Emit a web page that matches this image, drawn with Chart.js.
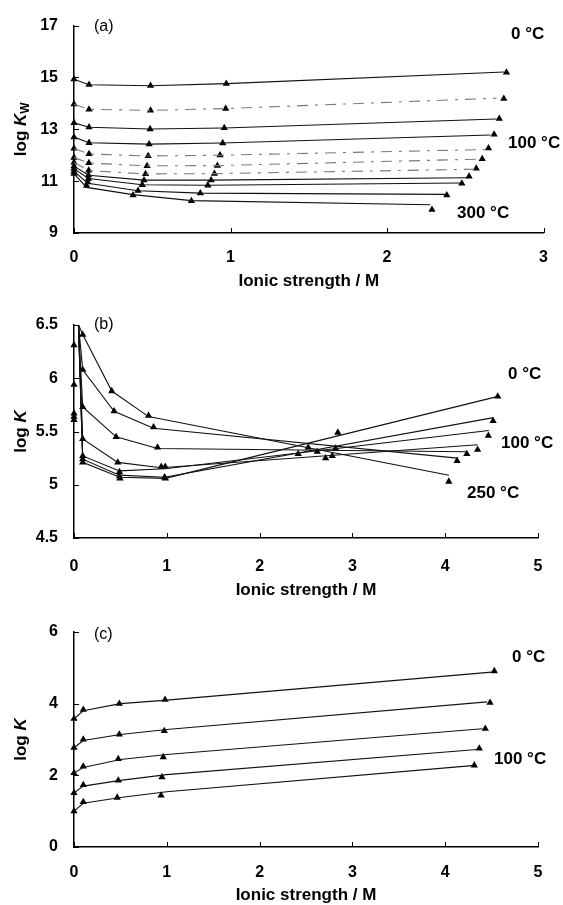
<!DOCTYPE html>
<html>
<head>
<meta charset="utf-8">
<script src="https://cdn.jsdelivr.net/npm/chart.js@4.4.1/dist/chart.umd.min.js"></script>
<style>
html, body { margin: 0; padding: 0; background: #fff; }
#wrap { position: relative; width: 563px; height: 905px; }
canvas { position: absolute; left: 0; }
</style>
</head>
<body>
<div id="wrap">
  <canvas id="pa" width="563" height="295" style="top:0px"></canvas>
  <canvas id="pb" width="563" height="305" style="top:295px"></canvas>
  <canvas id="pc" width="563" height="305" style="top:600px"></canvas>
</div>
<script>
// ---- panel (a): log Kw, 11 temperatures, 0 °C (top) to 300 °C (bottom)
const aXTicks = [0, 1, 2, 3];
const aYTicks = [9, 11, 13, 15, 17];
const aMarkX = [
  [0, 0.096, 0.489, 0.973, 2.763],
  [0, 0.096, 0.489, 0.969, 2.746],
  [0, 0.096, 0.486, 0.960, 2.717],
  [0, 0.096, 0.480, 0.950, 2.684],
  [0, 0.096, 0.474, 0.933, 2.648],
  [0, 0.095, 0.467, 0.916, 2.608],
  [0, 0.094, 0.457, 0.897, 2.570],
  [0, 0.093, 0.447, 0.876, 2.524],
  [0, 0.092, 0.436, 0.855, 2.478],
  [0, 0.088, 0.409, 0.807, 2.382],
  [0, 0.080, 0.377, 0.750, 2.287]
];
const aMarkY = [
  [14.93, 14.72, 14.68, 14.76, 15.19],
  [13.97, 13.77, 13.73, 13.80, 14.18],
  [13.25, 13.08, 13.01, 13.05, 13.41],
  [12.70, 12.48, 12.43, 12.47, 12.80],
  [12.26, 12.05, 11.97, 12.00, 12.27],
  [11.91, 11.70, 11.59, 11.60, 11.86],
  [11.72, 11.41, 11.28, 11.29, 11.49],
  [11.58, 11.23, 11.04, 11.04, 11.18],
  [11.48, 11.10, 10.86, 10.84, 10.91],
  [11.38, 10.96, 10.63, 10.54, 10.46],
  [11.29, 10.83, 10.46, 10.24, 9.90]
];
const aLineX = [
  [0, 0.096, 0.489, 0.973, 2.75],
  [0, 0.096, 0.489, 0.969, 2.70],
  [0, 0.096, 0.486, 0.960, 2.70],
  [0, 0.096, 0.480, 0.950, 2.66],
  [0, 0.096, 0.474, 0.933, 2.63],
  [0, 0.095, 0.467, 0.916, 2.59],
  [0, 0.094, 0.457, 0.897, 2.56],
  [0, 0.093, 0.447, 0.876, 2.51],
  [0, 0.092, 0.436, 0.855, 2.47],
  [0, 0.088, 0.409, 0.807, 2.376],
  [0, 0.080, 0.377, 0.750, 2.277]
];
const aLineY = [
  [14.93, 14.72, 14.68, 14.76, 15.21],
  [13.97, 13.77, 13.73, 13.80, 14.20],
  [13.25, 13.08, 13.01, 13.05, 13.40],
  [12.70, 12.48, 12.43, 12.47, 12.78],
  [12.26, 12.05, 11.97, 12.00, 12.22],
  [11.91, 11.70, 11.59, 11.60, 11.85],
  [11.72, 11.41, 11.28, 11.29, 11.46],
  [11.58, 11.23, 11.04, 11.04, 11.13],
  [11.48, 11.10, 10.86, 10.84, 10.93],
  [11.38, 10.92, 10.63, 10.54, 10.49],
  [11.29, 10.76, 10.48, 10.25, 10.09]
];

// ---- panel (b): log K, 7 temperatures, 250 °C (top at left) to 0 °C
const bXTicks = [0, 1, 2, 3, 4, 5];
const bYTicks = [4.5, 5, 5.5, 6, 6.5];
const bMarkX = [
  [0, 0.094, 0.407, 0.803, 2.416, 4.039],
  [0, 0.094, 0.432, 0.857, 2.524, 4.128],
  [0, 0.094, 0.454, 0.900, 2.621, 4.233],
  [0, 0.094, 0.472, 0.940, 2.711, 4.349],
  [0, 0.094, 0.490, 0.983, 2.783, 4.465],
  [0, 0.094, 0.490, 0.975, 2.819, 4.516],
  [0, 0.094, 0.495, 0.985, 2.843, 4.566]
];
const bMarkY = [
  [6.31, 6.41, 5.88, 5.65, 5.29, 5.03],
  [5.94, 6.08, 5.69, 5.54, 5.35, 5.225],
  [5.67, 5.73, 5.45, 5.35, 5.31, 5.29],
  [5.64, 5.43, 5.21, 5.17, 5.25, 5.33],
  [5.61, 5.27, 5.12, 5.17, 5.27, 5.46],
  [null, 5.24, 5.08, 5.07, 5.34, 5.60],
  [null, 5.21, 5.06, 5.06, 5.49, 5.83]
];
const bLineX = [
  [0, 0.094, 0.407, 0.803, 4.04],
  [0, 0.094, 0.432, 0.857, 4.13],
  [0, 0.094, 0.454, 0.900, 4.23],
  [0, 0.094, 0.472, 0.940, 4.35],
  [0, 0.094, 0.490, 0.983, 4.47],
  [0, 0.094, 0.490, 0.975, 4.52],
  [0, 0.094, 0.495, 0.985, 4.57]
];
const bLineY = [
  [6.60, 6.41, 5.88, 5.64, 5.09],
  [6.95, 6.08, 5.69, 5.53, 5.25],
  [7.30, 5.73, 5.45, 5.34, 5.31],
  [7.60, 5.43, 5.21, 5.16, 5.375],
  [7.80, 5.27, 5.13, 5.15, 5.51],
  [7.85, 5.24, 5.09, 5.07, 5.63],
  [7.90, 5.21, 5.07, 5.06, 5.83]
];

// ---- panel (c): log K, 5 temperatures, 0 °C (top) to 100 °C
const cXTicks = [0, 1, 2, 3, 4, 5];
const cYTicks = [0, 2, 4, 6];
const cMarkX = [
  [0, 0.1, 0.488, 0.981, 4.529],
  [0, 0.1, 0.488, 0.973, 4.483],
  [0, 0.1, 0.477, 0.962, 4.432],
  [0, 0.1, 0.477, 0.948, 4.367],
  [0, 0.1, 0.466, 0.938, 4.314]
];
const cMarkY = [
  [3.58, 3.83, 4.00, 4.11, 4.91],
  [2.77, 3.00, 3.14, 3.24, 4.03],
  [2.07, 2.25, 2.46, 2.51, 3.30],
  [1.51, 1.73, 1.86, 1.95, 2.75],
  [1.00, 1.26, 1.38, 1.44, 2.28]
];
const cLineX = [
  [0, 0.1, 0.5, 1.0, 4.50],
  [0, 0.1, 0.5, 1.0, 4.45],
  [0, 0.1, 0.5, 1.0, 4.40],
  [0, 0.1, 0.5, 1.0, 4.34],
  [0, 0.1, 0.5, 1.0, 4.29]
];
const cLineY = [
  [3.58, 3.80, 4.00, 4.10, 4.88],
  [2.77, 2.97, 3.14, 3.28, 4.05],
  [2.07, 2.22, 2.44, 2.58, 3.30],
  [1.51, 1.70, 1.86, 2.02, 2.72],
  [1.00, 1.22, 1.38, 1.54, 2.27]
];

const FONT = 'Arial, "Liberation Sans", sans-serif';

// draws inward ticks, panel tag, temperature notes and axis titles
const decor = {
  id: 'decor',
  afterDraw(chart, args, o) {
    const ctx = chart.ctx, a = chart.chartArea;
    const xs = chart.scales.x, ys = chart.scales.y;
    ctx.save();
    ctx.strokeStyle = '#000';
    ctx.lineWidth = 1;
    xs.ticks.forEach(t => {
      const px = Math.round(xs.getPixelForValue(t.value)) + 0.5;
      ctx.beginPath(); ctx.moveTo(px, a.bottom); ctx.lineTo(px, a.bottom - 5); ctx.stroke();
    });
    ys.ticks.forEach(t => {
      const py = Math.round(ys.getPixelForValue(t.value)) + 0.5;
      ctx.beginPath(); ctx.moveTo(a.left, py); ctx.lineTo(a.left + 5, py); ctx.stroke();
    });

    ctx.fillStyle = '#000';
    ctx.textBaseline = 'middle';
    ctx.textAlign = 'left';
    ctx.font = '16px ' + FONT;
    ctx.fillText(o.tag[0], o.tag[1], o.tag[2]);
    ctx.font = 'bold 17px ' + FONT;
    o.notes.forEach(n => ctx.fillText(n[0], n[1], n[2]));

    ctx.textAlign = 'center';
    ctx.fillText('Ionic strength / M', (a.left + a.right) / 2, o.xTitleY);

    // rotated y title: log K (+ subscript)
    const main = 'bold 17px ' + FONT, ital = 'italic bold 17px ' + FONT, sub = 'bold 12px ' + FONT;
    ctx.font = main; const w1 = ctx.measureText('log ').width;
    ctx.font = ital; const w2 = ctx.measureText('K').width;
    ctx.font = sub; const w3 = o.sub ? ctx.measureText(o.sub).width : 0;
    const total = w1 + w2 + w3;
    ctx.translate(o.yTitleX, (a.top + a.bottom) / 2);
    ctx.rotate(-Math.PI / 2);
    ctx.textAlign = 'left';
    let x = -total / 2;
    ctx.font = main; ctx.fillText('log ', x, 0); x += w1;
    ctx.font = ital; ctx.fillText('K', x, 0); x += w2;
    if (o.sub) { ctx.font = sub; ctx.fillText(o.sub, x, 5); }
    ctx.restore();
  }
};

function seriesSets(markX, markY, lineX, lineY, dashed) {
  const sets = [];
  lineX.forEach((xs, i) => {
    const dash = dashed.includes(i);
    sets.push({
      data: xs.map((x, j) => ({ x: x, y: lineY[i][j] })),
      showLine: true,
      pointRadius: 0,
      borderColor: dash ? '#7a7a7a' : '#111',
      borderWidth: 1.1,
      borderDash: dash ? [11, 7, 3, 7] : [],
      tension: 0
    });
  });
  markX.forEach((xs, i) => {
    sets.push({
      data: xs.map((x, j) => ({ x: x, y: markY[i][j] })).filter(p => p.y !== null),
      showLine: false,
      pointStyle: 'triangle',
      pointRadius: 4.2,
      backgroundColor: '#000',
      borderColor: '#000',
      borderWidth: 0,
      clip: false
    });
  });
  return sets;
}

function makeChart(id, p) {
  const H = document.getElementById(id).height;
  return new Chart(document.getElementById(id), {
    type: 'scatter',
    data: { datasets: seriesSets(p.markX, p.markY, p.lineX, p.lineY, p.dashed) },
    options: {
      responsive: false,
      animation: false,
      devicePixelRatio: 1,
      layout: { padding: { top: p.top, right: 563 - p.right, left: 0, bottom: 0 } },
      plugins: { legend: { display: false }, tooltip: { enabled: false }, decor: p.decor },
      scales: {
        x: {
          type: 'linear', min: p.xTicks[0], max: p.xTicks[p.xTicks.length - 1],
          afterBuildTicks: s => { s.ticks = p.xTicks.map(v => ({ value: v })); },
          afterFit: s => { s.height = H - p.bottom; },
          grid: { display: false, drawTicks: false },
          border: { display: true, color: '#000', width: 1.5 },
          ticks: { color: '#000', font: { family: FONT, size: 16, weight: 'bold' }, padding: p.xPad, maxRotation: 0,
                   callback: v => String(v) }
        },
        y: {
          type: 'linear', min: p.yTicks[0], max: p.yTicks[p.yTicks.length - 1],
          afterBuildTicks: s => { s.ticks = p.yTicks.map(v => ({ value: v })); },
          afterFit: s => { s.width = 74; },
          grid: { display: false, drawTicks: false },
          border: { display: true, color: '#000', width: 1.5 },
          ticks: { color: '#000', font: { family: FONT, size: 16, weight: 'bold' }, padding: 16,
                   callback: v => String(v) }
        }
      }
    },
    plugins: [decor]
  });
}

makeChart('pa', {
  markX: aMarkX, markY: aMarkY, lineX: aLineX, lineY: aLineY, dashed: [1, 4, 5, 6],
  xTicks: aXTicks, yTicks: aYTicks, top: 18, bottom: 233, right: 551, xPad: 15,
  decor: { tag: ['(a)', 94, 27], notes: [['0 °C', 511, 34], ['100 °C', 508, 143], ['300 °C', 457, 213]],
           xTitleY: 281, yTitleX: 21, sub: 'W' }
});
makeChart('pb', {
  markX: bMarkX, markY: bMarkY, lineX: bLineX, lineY: bLineY, dashed: [],
  xTicks: bXTicks, yTicks: bYTicks, top: 30, bottom: 243, right: 538, xPad: 19,
  decor: { tag: ['(b)', 94, 30], notes: [['0 °C', 508, 79], ['100 °C', 501, 148], ['250 °C', 467, 198]],
           xTitleY: 295, yTitleX: 21, sub: '' }
});
makeChart('pc', {
  markX: cMarkX, markY: cMarkY, lineX: cLineX, lineY: cLineY, dashed: [],
  xTicks: cXTicks, yTicks: cYTicks, top: 32, bottom: 247, right: 538, xPad: 16,
  decor: { tag: ['(c)', 94, 35], notes: [['0 °C', 512, 57], ['100 °C', 494, 159]],
           xTitleY: 295, yTitleX: 21, sub: '' }
});
</script>
</body>
</html>
